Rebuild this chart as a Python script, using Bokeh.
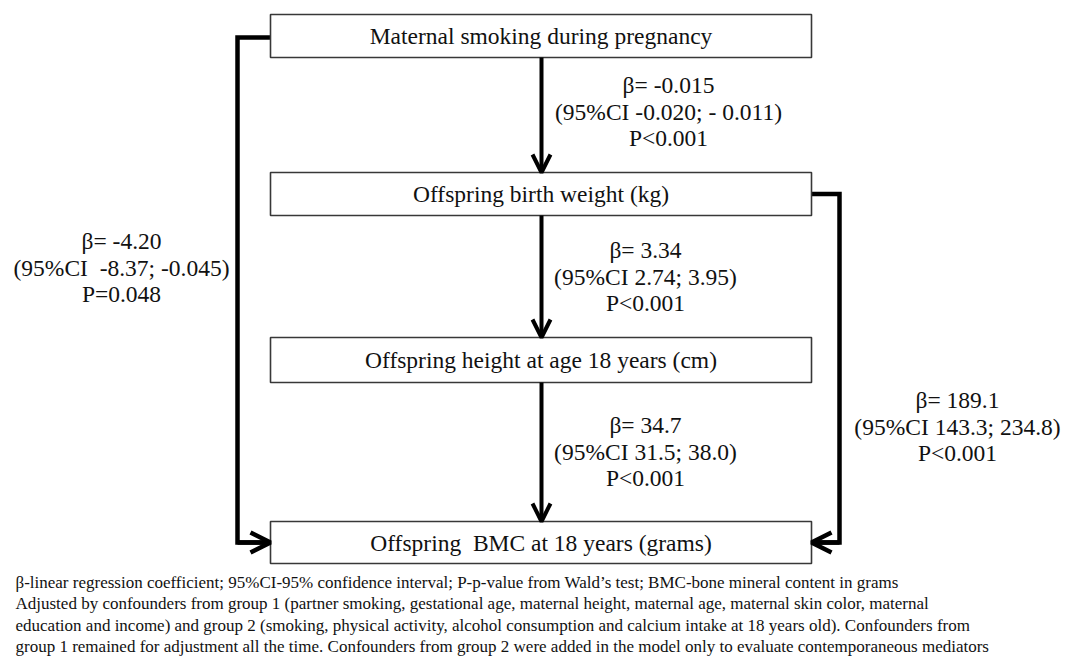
from bokeh.plotting import figure
from bokeh.models import Range1d, Arrow, OpenHead
from bokeh.core.properties import value
from bokeh.embed import file_html
from bokeh.resources import INLINE

# ---- content ----
node_labels = [
    "Maternal smoking during pregnancy",
    "Offspring birth weight (kg)",
    "Offspring height at age 18 years (cm)",
    "Offspring\u00a0 BMC at 18 years (grams)",
]
path_names = ["smoke->bw", "bw->height", "height->bmc", "smoke->bmc", "bw->bmc"]
path_betas = ["β= -0.015", "β= 3.34", "β= 34.7", "β= -4.20", "β= 189.1"]
path_cis = ["(95%CI -0.020; - 0.011)", "(95%CI 2.74; 3.95)", "(95%CI 31.5; 38.0)",
            "(95%CI\u00a0 -8.37; -0.045)", "(95%CI 143.3; 234.8)"]
path_ps = ["P<0.001", "P<0.001", "P<0.001", "P=0.048", "P<0.001"]
footnote_lines = [
    "β-linear regression coefficient; 95%CI-95% confidence interval; P-p-value from Wald’s test; BMC-bone mineral content in grams",
    "Adjusted by confounders from group 1 (partner smoking, gestational age, maternal height, maternal age, maternal skin color, maternal",
    "education and income) and group 2 (smoking, physical activity, alcohol consumption and calcium intake at 18 years old). Confounders from",
    "group 1 remained for adjustment all the time. Confounders from group 2 were added in the model only to evaluate contemporaneous mediators",
]

# ---- layout (pixel-like data units) ----
W, H = 1064, 657
box_left = 270
box_right = 811
box_top = [14, 172, 337, 521]
box_bottom = [57, 215, 382, 563]
center_x = 541
label_cx = [668, 645, 645, 121, 957]
label_cy = [111, 276, 451, 267, 426]
line_gap = 26.5
left_x = 237
right_x = 839
foot_x = 15
foot_y0 = 582
foot_gap = 21.3

FONT = "Liberation Serif"

p = figure(width=W, height=H, x_range=Range1d(0, W), y_range=Range1d(H, 0),
           output_backend="svg", toolbar_location=None, min_border=0)
p.axis.visible = False
p.grid.visible = False
p.outline_line_color = None
p.background_fill_color = "white"
p.border_fill_color = "white"

# connectors (drawn first, under boxes)
mid = [(t + b) / 2 for t, b in zip(box_top, box_bottom)]
p.line([box_left, left_x, left_x, box_left - 3], [mid[0] + 1.5, mid[0] + 1.5, mid[3], mid[3]],
       line_width=4.5, line_color="black", line_join="miter")
p.line([box_right, right_x, right_x, box_right + 3], [mid[1], mid[1], mid[3], mid[3]],
       line_width=4.5, line_color="black", line_join="miter")
p.add_layout(Arrow(end=OpenHead(size=20, line_width=4.5, line_color="black"),
                   x_start=left_x, y_start=mid[3], x_end=box_left, y_end=mid[3],
                   line_width=4.5, line_color="black"))
p.add_layout(Arrow(end=OpenHead(size=20, line_width=4.5, line_color="black"),
                   x_start=right_x, y_start=mid[3], x_end=box_right, y_end=mid[3],
                   line_width=4.5, line_color="black"))

# vertical arrows between consecutive boxes
for i in range(3):
    p.add_layout(Arrow(end=OpenHead(size=18, line_width=4, line_color="black"),
                       x_start=center_x, y_start=box_bottom[i], x_end=center_x, y_end=box_top[i + 1],
                       line_width=4, line_color="black"))

# boxes
p.quad(left=[box_left] * 4, right=[box_right] * 4, top=box_top, bottom=box_bottom,
       fill_color="white", line_color="#383838", line_width=1.6)
p.text(x=[(box_left + box_right) / 2] * 4, y=mid, text=node_labels,
       text_font=value(FONT), text_font_size="23.5px", text_align="center",
       text_baseline="middle", text_color="#111111")

# coefficient labels
xs, ys, txt = [], [], []
for cx, cy, b, c, pv in zip(label_cx, label_cy, path_betas, path_cis, path_ps):
    for k, t in enumerate([b, c, pv]):
        xs.append(cx)
        ys.append(cy + (k - 1) * line_gap)
        txt.append(t)
p.text(x=xs, y=ys, text=txt, text_font=value(FONT), text_font_size="23.5px",
       text_align="center", text_baseline="middle", text_color="#111111")

# footnote
p.text(x=[foot_x] * len(footnote_lines),
       y=[foot_y0 + i * foot_gap for i in range(len(footnote_lines))],
       text=footnote_lines, text_font=value(FONT), text_font_size="17px",
       text_align="left", text_baseline="middle", text_color="#111111")

open("out.html", "w").write(file_html(p, INLINE))
